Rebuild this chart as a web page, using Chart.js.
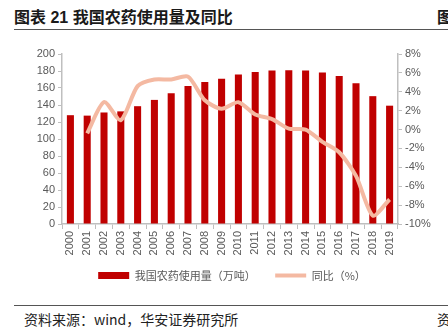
<!DOCTYPE html>
<html>
<head>
<meta charset="utf-8">
<script src="https://cdn.jsdelivr.net/npm/chart.js@4.4.1/dist/chart.umd.min.js"></script>
<style>
  html, body { margin: 0; padding: 0; background: #fff; }
  body { width: 448px; height: 334px; position: relative; overflow: hidden;
         font-family: "Liberation Sans", "Noto Sans CJK SC", sans-serif; }
  .title { position: absolute; left: 14px; top: 4px; font-size: 16px; font-weight: bold;
           color: #1a1a1a; white-space: nowrap; }
  .title-r { position: absolute; left: 437px; top: 4px; font-size: 16px; font-weight: bold; color: #1a1a1a; }
  .rule { position: absolute; left: 14px; width: 434px; height: 1px; background: #555; }
  .src { position: absolute; left: 24px; top: 309px; font-size: 14px; color: #222; white-space: nowrap;
         font-family: "Noto Sans CJK SC", sans-serif; }
  .src-r { position: absolute; left: 437px; top: 309px; font-size: 14px; color: #222;
           font-family: "Noto Sans CJK SC", sans-serif; }
  #wrap { position: absolute; left: 0; top: 36px; width: 448px; height: 264px; }
</style>
</head>
<body>
<div class="title">图表 21 我国农药使用量及同比</div>
<div class="title-r">图</div>
<div class="rule" style="top:29px"></div>
<div id="wrap"><canvas id="chart"></canvas></div>
<div class="rule" style="top:305px"></div>
<div class="src">资料来源：wind，华安证券研究所</div>
<div class="src-r">资</div>
<script>
const years = ['2000','2001','2002','2003','2004','2005','2006','2007','2008','2009',
               '2010','2011','2012','2013','2014','2015','2016','2017','2018','2019'];
const usage = [128.0, 127.5, 131.2, 132.5, 138.6, 146.0, 153.7, 162.3, 167.2, 170.9,
               175.8, 178.7, 180.6, 180.8, 180.7, 178.3, 174.1, 165.5, 150.4, 139.2];
const yoy = [null, -0.4, 2.9, 1.0, 4.6, 5.3, 5.3, 5.6, 3.1, 2.2,
             2.9, 1.6, 1.1, 0.1, 0.0, -1.3, -2.4, -4.9, -9.1, -7.4];

const grey = '#595959';
const axisCol = '#bfbfbf';
const lineCol = '#f4b9a2';
const tickFont = { family: '"Liberation Sans", Arial, sans-serif', size: 11 };

const ctx = document.getElementById('chart').getContext('2d');
new Chart(ctx, {
    data: {
        labels: years,
        datasets: [{
            type: 'bar',
            label: '我国农药使用量（万吨）\u3000',
            data: usage,
            backgroundColor: '#c00000',
            borderWidth: 0,
            barPercentage: 0.42,
            categoryPercentage: 1,
            yAxisID: 'y',
            order: 2
        }, {
            type: 'line',
            label: '同比（%）',
            data: yoy,
            borderColor: lineCol,
            backgroundColor: lineCol,
            borderWidth: 4,
            pointRadius: 0,
            tension: 0.25,
            yAxisID: 'y1',
            order: 1
        }]
    },
    options: {
        responsive: true,
        maintainAspectRatio: false,
        animation: false,
        layout: { padding: { top: 18, left: 16, right: 0, bottom: 9 } },
        plugins: {
            tooltip: { enabled: false },
            legend: {
                position: 'bottom',
                labels: {
                    usePointStyle: true,
                    pointStyleWidth: 31,
                    boxHeight: 7,
                    padding: 14,
                    color: grey,
                    font: { family: '"Noto Sans CJK SC", sans-serif', size: 11 },
                    sort: (a, b) => a.datasetIndex - b.datasetIndex,
                    generateLabels(chart) {
                        const items = Chart.defaults.plugins.legend.labels.generateLabels(chart);
                        items.forEach(it => {
                            if (chart.data.datasets[it.datasetIndex].type === 'line') {
                                it.pointStyle = 'line';
                                it.lineWidth = 4;
                                it.strokeStyle = lineCol;
                            } else {
                                it.pointStyle = 'rect';
                            }
                        });
                        return items;
                    }
                }
            }
        },
        scales: {
            x: {
                grid: { display: true, drawOnChartArea: false, color: axisCol, tickLength: 5, offset: true },
                border: { color: axisCol, width: 1.5 },
                ticks: { color: grey, font: tickFont, minRotation: 90, maxRotation: 90, padding: 2 },
                afterFit(scale) { scale.height = 32; }
            },
            y: {
                position: 'left',
                min: 0, max: 200,
                grid: { display: true, drawOnChartArea: false, color: axisCol, tickLength: 4 },
                border: { color: axisCol, width: 1.5 },
                ticks: { stepSize: 20, color: grey, font: tickFont, padding: 3 },
                afterFit(scale) { scale.width = 46; }
            },
            y1: {
                position: 'right',
                min: -10, max: 8,
                grid: { display: true, drawOnChartArea: false, color: axisCol, tickLength: 4 },
                border: { color: axisCol, width: 1.5 },
                ticks: { stepSize: 2, color: grey, font: tickFont, padding: 3,
                         callback: v => v + '%' },
                afterFit(scale) { scale.width = 50; }
            }
        }
    }
});
</script>
</body>
</html>
